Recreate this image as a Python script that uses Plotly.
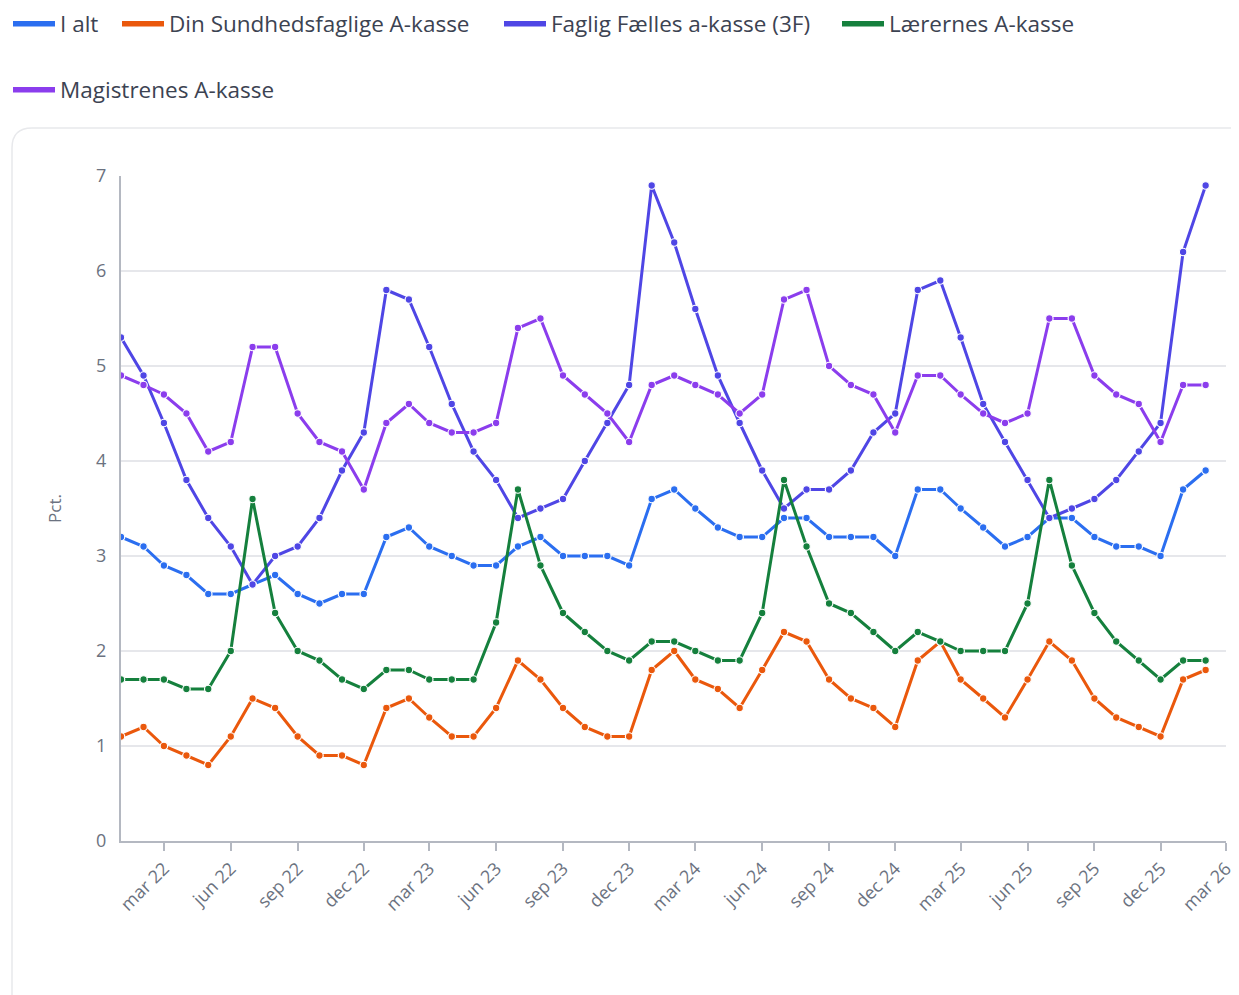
import plotly.graph_objects as go

months = [f"{y}-{m:02d}-01" for y in range(2022, 2027) for m in range(1, 13)][:50]

i_alt = [3.2, 3.1, 2.9, 2.8, 2.6, 2.6, 2.7, 2.8, 2.6, 2.5, 2.6, 2.6,
         3.2, 3.3, 3.1, 3.0, 2.9, 2.9, 3.1, 3.2, 3.0, 3.0, 3.0, 2.9,
         3.6, 3.7, 3.5, 3.3, 3.2, 3.2, 3.4, 3.4, 3.2, 3.2, 3.2, 3.0,
         3.7, 3.7, 3.5, 3.3, 3.1, 3.2, 3.4, 3.4, 3.2, 3.1, 3.1, 3.0,
         3.7, 3.9]
din_sundhed = [1.1, 1.2, 1.0, 0.9, 0.8, 1.1, 1.5, 1.4, 1.1, 0.9, 0.9, 0.8,
               1.4, 1.5, 1.3, 1.1, 1.1, 1.4, 1.9, 1.7, 1.4, 1.2, 1.1, 1.1,
               1.8, 2.0, 1.7, 1.6, 1.4, 1.8, 2.2, 2.1, 1.7, 1.5, 1.4, 1.2,
               1.9, 2.1, 1.7, 1.5, 1.3, 1.7, 2.1, 1.9, 1.5, 1.3, 1.2, 1.1,
               1.7, 1.8]
faglig_3f = [5.3, 4.9, 4.4, 3.8, 3.4, 3.1, 2.7, 3.0, 3.1, 3.4, 3.9, 4.3,
             5.8, 5.7, 5.2, 4.6, 4.1, 3.8, 3.4, 3.5, 3.6, 4.0, 4.4, 4.8,
             6.9, 6.3, 5.6, 4.9, 4.4, 3.9, 3.5, 3.7, 3.7, 3.9, 4.3, 4.5,
             5.8, 5.9, 5.3, 4.6, 4.2, 3.8, 3.4, 3.5, 3.6, 3.8, 4.1, 4.4,
             6.2, 6.9]
laererne = [1.7, 1.7, 1.7, 1.6, 1.6, 2.0, 3.6, 2.4, 2.0, 1.9, 1.7, 1.6,
            1.8, 1.8, 1.7, 1.7, 1.7, 2.3, 3.7, 2.9, 2.4, 2.2, 2.0, 1.9,
            2.1, 2.1, 2.0, 1.9, 1.9, 2.4, 3.8, 3.1, 2.5, 2.4, 2.2, 2.0,
            2.2, 2.1, 2.0, 2.0, 2.0, 2.5, 3.8, 2.9, 2.4, 2.1, 1.9, 1.7,
            1.9, 1.9]
magistre = [4.9, 4.8, 4.7, 4.5, 4.1, 4.2, 5.2, 5.2, 4.5, 4.2, 4.1, 3.7,
            4.4, 4.6, 4.4, 4.3, 4.3, 4.4, 5.4, 5.5, 4.9, 4.7, 4.5, 4.2,
            4.8, 4.9, 4.8, 4.7, 4.5, 4.7, 5.7, 5.8, 5.0, 4.8, 4.7, 4.3,
            4.9, 4.9, 4.7, 4.5, 4.4, 4.5, 5.5, 5.5, 4.9, 4.7, 4.6, 4.2,
            4.8, 4.8]

series_names = ["I alt", "Din Sundhedsfaglige A-kasse", "Faglig Fælles a-kasse (3F)",
                "Lærernes A-kasse", "Magistrenes A-kasse"]
series_values = [i_alt, din_sundhed, faglig_3f, laererne, magistre]
colors = ["#2b6ef0", "#ea580c", "#4f46e5", "#15803d", "#8b3ded"]

tick_vals = [f"{y}-{m:02d}-01" for y in range(2022, 2027) for m in (3, 6, 9, 12)][:17]
tick_text = ["mar 22", "jun 22", "sep 22", "dec 22", "mar 23", "jun 23", "sep 23", "dec 23",
             "mar 24", "jun 24", "sep 24", "dec 24", "mar 25", "jun 25", "sep 25", "dec 25",
             "mar 26"]

# page body has an 8px margin, so figure coordinates = screen coordinates - 8
OFF = 8
W, H = 1239 - OFF, 995 - OFF
L, R, T, B = 121 - OFF, 1226 - OFF, 176 - OFF, 841 - OFF

# legend item placement (screen pixels): swatch left x, row center y
legend_pos = [(12, 24), (125, 24), (507, 24), (845, 24), (12, 90)]
legend_ids = ["legend", "legend2", "legend3", "legend4", "legend5"]

fig = go.Figure()
for k, (name, vals, col) in enumerate(zip(series_names, series_values, colors)):
    fig.add_trace(go.Scatter(
        x=months, y=vals, name=name, mode="lines+markers",
        line=dict(color=col, width=3),
        marker=dict(size=7.5, color=col, line=dict(color="white", width=1.2)),
        showlegend=False, legendgroup=name,
    ))
for k, (name, col) in enumerate(zip(series_names, colors)):
    fig.add_trace(go.Scatter(
        x=[None], y=[None], name=name, mode="lines",
        line=dict(color=col, width=5.5),
        showlegend=True, legendgroup=name, legend=legend_ids[k],
    ))

def px(x):
    return (x - OFF - L) / (R - L)

def py(y):
    return (B - (y - OFF)) / (B - T)

r = 20
path = (f"M {px(12)},{py(1010)} L {px(12)},{py(128 + r)} "
        f"Q {px(12)},{py(128)} {px(12 + r)},{py(128)} L {px(1260)},{py(128)}")

legend_font = dict(family="Open Sans, Noto Sans, sans-serif", size=22.5, color="#3c4352")

layout_legends = {}
for k, lid in enumerate(legend_ids):
    lx, ly = legend_pos[k]
    layout_legends[lid] = dict(
        orientation="h", xref="container", yref="container",
        x=(lx - OFF - 8) / W, y=1 - (ly - OFF) / H, xanchor="left", yanchor="middle",
        font=legend_font, itemwidth=42, bgcolor="rgba(0,0,0,0)",
        borderwidth=0, itemclick=False, itemdoubleclick=False,
    )

fig.update_layout(
    width=W, height=H,
    margin=dict(l=L, r=W - R, t=T, b=H - B, autoexpand=False),
    paper_bgcolor="white", plot_bgcolor="white",
    font=dict(family="Open Sans, Noto Sans, sans-serif", color="#6b7280"),
    showlegend=True,
    shapes=[dict(type="path", xref="paper", yref="paper", path=path,
                 line=dict(color="#e8e9ec", width=1.5), layer="below")],
    xaxis=dict(type="date", range=["2022-01-01", "2026-03-01"],
               tickvals=tick_vals, ticktext=tick_text, tickangle=-45,
               tickfont=dict(size=18, color="#6b7280"), automargin=False,
               showgrid=False, showline=True, linecolor="#b4b8c1", linewidth=2,
               ticks="outside", ticklen=8, tickcolor="#b4b8c1", tickwidth=2,
               zeroline=False),
    yaxis=dict(range=[0, 7], dtick=1, tick0=0, automargin=False,
               tickfont=dict(size=18, color="#6b7280"),
               showgrid=True, gridcolor="#e6e7eb", gridwidth=1.5,
               showline=True, linecolor="#b4b8c1", linewidth=2,
               zeroline=False, ticks="", ticklabelstandoff=9,
               title=dict(text="Pct.", font=dict(size=17, color="#6b7280"), standoff=30)),
    **layout_legends,
)

fig.write_html("out.html")
